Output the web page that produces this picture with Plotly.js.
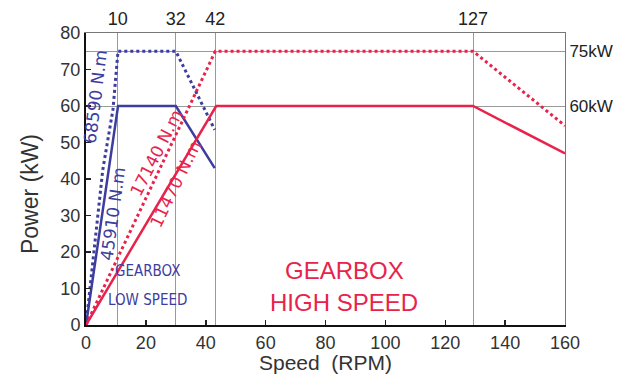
<!DOCTYPE html>
<html>
<head>
<meta charset="utf-8">
<script src="https://cdn.plot.ly/plotly-3.0.1.min.js"></script>
<style>
html,body{margin:0;padding:0;background:#fff;}
#chart{width:623px;height:374px;}
.annotation[data-index="4"] text, .annotation[data-index="5"] text { font-stretch: condensed; }
</style>
</head>
<body>
<div id="chart"></div>
<script>
// Low-speed gearbox, 45910 N.m (solid, 60 kW)
const lowSolidSpeed = [0, 10.7, 30.0, 43.0];
const lowSolidPower = [0, 60, 60, 43];
// Low-speed gearbox, 68590 N.m (dotted, 75 kW)
const lowDotSpeed = [0, 5.6, 9.0, 10.7, 30.0, 43.0];
const lowDotPower = [0, 42.5, 59, 75, 75, 53.5];
// High-speed gearbox, 11470 N.m (solid, 60 kW)
const highSolidSpeed = [0, 43.5, 129.3, 160];
const highSolidPower = [0, 60, 60, 47];
// High-speed gearbox, 17140 N.m (dotted, 75 kW)
const highDotSpeed = [0, 43.2, 129.3, 160];
const highDotPower = [0, 75, 75, 54.6];
// Top reference speeds and right reference powers
const topTickPos = [10.6, 30.0, 43.2, 129.3];
const topTickText = ['10', '32', '42', '127'];
const rightTickPos = [60, 75];
const rightTickText = ['60kW', '75kW'];
const xTicks = [0, 20, 40, 60, 80, 100, 120, 140, 160];
const yTicks = [0, 10, 20, 30, 40, 50, 60, 70, 80];

const BLUE = '#3d3d9f';
const RED = '#e8234b';
const FONT = 'Liberation Sans, Arial, Helvetica, sans-serif';
const WIDE = 'DejaVu Sans, Liberation Sans, sans-serif';
const NARROW = 'DejaVu Sans Condensed, DejaVu Sans, sans-serif';

const traces = [
  {x: lowDotSpeed, y: lowDotPower, mode: 'lines', line: {color: BLUE, width: 3, dash: 'dot'}, hoverinfo: 'skip'},
  {x: lowSolidSpeed, y: lowSolidPower, mode: 'lines', line: {color: BLUE, width: 2.5}, hoverinfo: 'skip'},
  {x: highDotSpeed, y: highDotPower, mode: 'lines', line: {color: RED, width: 3, dash: 'dot'}, hoverinfo: 'skip'},
  {x: highSolidSpeed, y: highSolidPower, mode: 'lines', line: {color: RED, width: 2.5}, hoverinfo: 'skip'},
  {x: [0], y: [0], xaxis: 'x2', yaxis: 'y2', mode: 'markers', marker: {opacity: 0}, hoverinfo: 'skip'}
];

const layout = {
  width: 623, height: 374,
  margin: {l: 86, r: 58, t: 33, b: 49},
  paper_bgcolor: '#fff', plot_bgcolor: '#fff',
  showlegend: false,
  font: {family: FONT, size: 18, color: '#333'},
  xaxis: {
    range: [0, 160], tickvals: xTicks, ticks: 'inside', ticklen: 5, tickwidth: 1.5, tickcolor: '#222',
    showline: true, linecolor: '#111', linewidth: 2, showgrid: false, zeroline: false,
    tickfont: {size: 18, color: '#333'},
    title: {text: 'Speed\u00a0 (RPM)', font: {size: 21, color: '#333'}, standoff: 3}
  },
  yaxis: {
    range: [0, 80], tickvals: yTicks, ticks: 'inside', ticklen: 5, tickwidth: 1.5, tickcolor: '#222',
    showline: true, linecolor: '#111', linewidth: 2, showgrid: false, zeroline: false,
    tickfont: {size: 18, color: '#333'}
  },
  xaxis2: {
    overlaying: 'x', side: 'top', anchor: 'y', range: [0, 160],
    tickvals: topTickPos, ticktext: topTickText, ticks: '',
    showgrid: true, gridcolor: '#9a9a9a', gridwidth: 1,
    showline: true, linecolor: '#777', linewidth: 1, zeroline: false,
    tickfont: {size: 18, color: '#222'}
  },
  yaxis2: {
    overlaying: 'y', side: 'right', anchor: 'x', range: [0, 80],
    tickvals: rightTickPos, ticktext: rightTickText, ticks: '',
    showgrid: true, gridcolor: '#9a9a9a', gridwidth: 1,
    showline: true, linecolor: '#777', linewidth: 1, zeroline: false,
    tickfont: {size: 17, color: '#222'}
  },
  annotations: [
    {text: '68590 N.m', x: 3.2, y: 62.4, xref: 'x', yref: 'y', showarrow: false, textangle: -83,
     font: {family: WIDE, size: 17, color: BLUE}},
    {text: '45910 N.m', x: 9.0, y: 30.4, xref: 'x', yref: 'y', showarrow: false, textangle: -82,
     font: {family: WIDE, size: 17, color: BLUE}},
    {text: '17140 N.m', x: 23.4, y: 47.2, xref: 'x', yref: 'y', showarrow: false, textangle: -63,
     font: {family: WIDE, size: 17, color: RED}},
    {text: '11470 N.m', x: 29.8, y: 38.7, xref: 'x', yref: 'y', showarrow: false, textangle: -64,
     font: {family: WIDE, size: 17, color: RED}},
    {text: 'GEARBOX', x: 20.7, y: 14.8, xref: 'x', yref: 'y', showarrow: false,
     font: {family: NARROW, size: 15, color: BLUE}},
    {text: 'LOW SPEED', x: 20.7, y: 6.9, xref: 'x', yref: 'y', showarrow: false,
     font: {family: NARROW, size: 15, color: BLUE}},
    {text: 'GEARBOX', x: 86.5, y: 14.8, xref: 'x', yref: 'y', showarrow: false,
     font: {family: FONT, size: 24, color: RED}},
    {text: 'HIGH SPEED', x: 86.2, y: 6.3, xref: 'x', yref: 'y', showarrow: false,
     font: {family: FONT, size: 24, color: RED}},
    {text: 'Power (kW)', x: -0.118, y: 0.45, xref: 'paper', yref: 'paper', xanchor: 'center', yanchor: 'middle',
     showarrow: false, textangle: -90,
     font: {family: FONT, size: 23, color: '#333'}}
  ]
};

Plotly.newPlot('chart', traces, layout, {staticPlot: true, displayModeBar: false});
</script>
</body>
</html>
